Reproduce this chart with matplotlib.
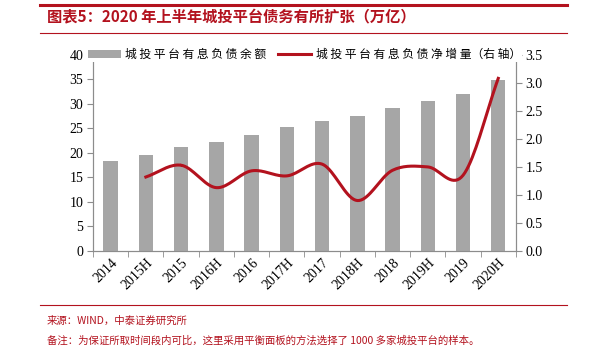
import matplotlib
matplotlib.use('Agg')
import matplotlib.pyplot as plt
import numpy as np

plt.rcParams['font.family'] = ['Noto Sans CJK SC', 'DejaVu Sans']
plt.rcParams['axes.unicode_minus'] = False

# 数据
periods = ['2014', '2015H', '2015', '2016H', '2016', '2017H', '2017',
           '2018H', '2018', '2019H', '2019', '2020H']
balance = [18.3, 19.6, 21.2, 22.2, 23.7, 25.2, 26.6, 27.6, 29.1, 30.5, 32.0, 34.9]
net_increase = [np.nan, 1.32, 1.53, 1.13, 1.43, 1.34, 1.55, 0.90, 1.44, 1.50, 1.35, 3.08]

red = '#B3121E'
bar_gray = '#A6A6A6'
axis_gray = '#8C8C8C'
serif = 'Liberation Serif'


def smooth(x, y, n=20):
    # Catmull-Rom 平滑（仿 Excel 平滑线）
    x = np.asarray(x, float)
    y = np.asarray(y, float)
    px = np.concatenate([[2 * x[0] - x[1]], x, [2 * x[-1] - x[-2]]])
    py = np.concatenate([[2 * y[0] - y[1]], y, [2 * y[-1] - y[-2]]])
    xs, ys = [], []
    t = np.linspace(0, 1, n)
    for i in range(1, len(px) - 2):
        for arr, out in ((px, xs), (py, ys)):
            p0, p1, p2, p3 = arr[i - 1], arr[i], arr[i + 1], arr[i + 2]
            out.extend(0.5 * ((2 * p1) + (-p0 + p2) * t
                              + (2 * p0 - 5 * p1 + 4 * p2 - p3) * t ** 2
                              + (-p0 + 3 * p1 - 3 * p2 + p3) * t ** 3))
    return np.array(xs), np.array(ys)


fig = plt.figure(figsize=(6.05, 3.56), dpi=100)
ax = fig.add_axes([0.1537, 0.295, 0.699, 0.551])
ax2 = ax.twinx()

x = np.arange(len(periods))
bars = ax.bar(x, balance, width=0.41, color=bar_gray, zorder=2)

mask = ~np.isnan(net_increase)
sx, sy = smooth(x[mask], np.array(net_increase)[mask])

ax.set_xlim(-0.5, len(periods) - 0.5)
ax.set_ylim(0, 40)
ax.set_yticks(np.arange(0, 41, 5))
ax2.set_ylim(0, 3.5)
ax2.set_yticks(np.arange(0, 3.51, 0.5))
ax2.set_yticklabels(['%.1f' % v for v in np.arange(0, 3.51, 0.5)])

ax.set_xticks(x)
ax.set_xticklabels(periods, rotation=45, ha='right', rotation_mode='anchor',
                   family=serif, fontsize=10)
ax.set_xticks(np.arange(-0.5, len(periods), 1), minor=True)
ax.tick_params(axis='x', which='major', length=0, pad=4)
ax.tick_params(axis='x', which='minor', length=4, color=axis_gray, direction='out')
for lab in ax.get_yticklabels() + ax2.get_yticklabels():
    lab.set_family(serif)
    lab.set_fontsize(10)
ax.tick_params(axis='y', length=4, color=axis_gray, pad=3)
ax2.tick_params(axis='y', length=4, color=axis_gray, pad=3)

for a in (ax, ax2):
    a.spines['top'].set_visible(False)
    for s in ('left', 'right', 'bottom'):
        a.spines[s].set_color(axis_gray)

# 曲线画在柱子上方（按右轴比例换算到左轴）
ax.set_zorder(ax2.get_zorder() + 1)
ax.patch.set_visible(False)
line, = ax.plot(sx, sy * 40 / 3.5, color=red, lw=2.2, zorder=3)

leg = ax.legend([bars, line], ['城 投 平 台 有 息 负 债 余 额', '城 投 平 台 有 息 负 债 净 增 量（右 轴）'],
                loc='upper center', bbox_to_anchor=(0.5, 1.04), ncol=2, frameon=True,
                fontsize=8.5, handlelength=2.8, handletextpad=0.4, columnspacing=1.0,
                borderpad=0.1, borderaxespad=0)
leg.get_frame().set_edgecolor('none')
leg.get_frame().set_facecolor('white')
leg.get_frame().set_alpha(1)
leg.set_zorder(10)

# 标题与页眉页脚
fig.add_artist(plt.Line2D([0.066, 0.937], [0.987, 0.987], color=red, lw=2.2))
fig.text(0.078, 0.952, '图表5：2020 年上半年城投平台债务有所扩张（万亿）', color=red,
         fontsize=11, fontweight='bold', style='italic', va='center')
fig.add_artist(plt.Line2D([0.066, 0.937], [0.907, 0.907], color=red, lw=0.8))
fig.add_artist(plt.Line2D([0.066, 0.937], [0.143, 0.143], color=red, lw=0.8))
fig.text(0.077, 0.100, '来源：WIND，中泰证券研究所', color=red, fontsize=7.5, va='center')
fig.text(0.077, 0.042, '备注：为保证所取时间段内可比，这里采用平衡面板的方法选择了 1000 多家城投平台的样本。',
         color=red, fontsize=7.5, va='center')

fig.savefig('out.png', dpi=100)
